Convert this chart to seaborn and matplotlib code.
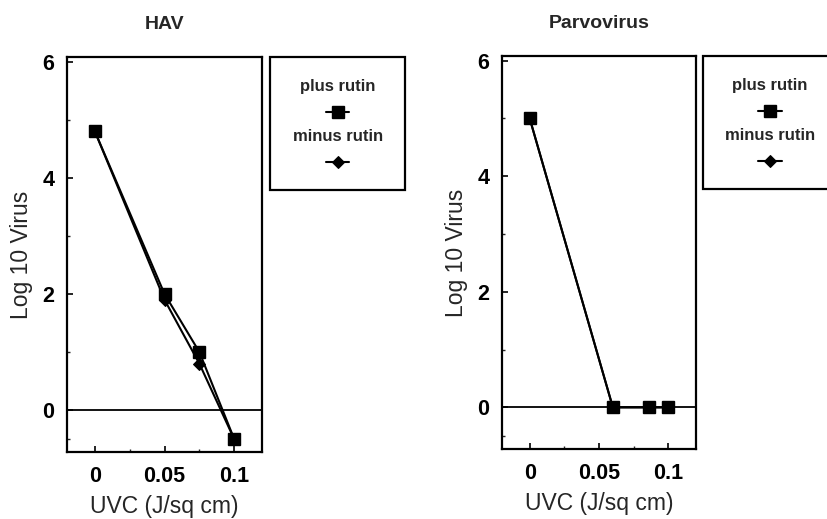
import matplotlib
matplotlib.use("Agg")
import matplotlib.pyplot as plt
import seaborn as sns
import pandas as pd
from matplotlib.offsetbox import VPacker
from matplotlib.ticker import FixedLocator

# ---- data ----
series_names = ["plus rutin", "minus rutin"]
hav_uvc = [0, 0.05, 0.075, 0.1]
hav_plus = [4.8, 2.0, 1.0, -0.5]
hav_minus = [4.8, 1.9, 0.8, -0.5]
parvo_uvc = [0, 0.06, 0.086, 0.1]
parvo_plus = [5.0, 0.0, 0.0, 0.0]
parvo_minus = [5.0, 0.0, 0.0, 0.0]
panel_titles = ["HAV", "Parvovirus"]
x_ticks = [0, 0.05, 0.1]
x_ticklabels = ["0", "0.05", "0.1"]
y_ticks = [0, 2, 4, 6]

sns.set_theme(style="white")
plt.rcParams["font.family"] = ["Liberation Sans", "DejaVu Sans"]

fig = plt.figure(figsize=(8.27, 5.19), dpi=100)
ax1 = fig.add_axes([0.081, 0.129, 0.236, 0.761])
ax2 = fig.add_axes([0.607, 0.135, 0.2346, 0.757])


def make_df(x, plus, minus):
    return pd.DataFrame({
        "uvc": list(x) + list(x),
        "log": list(plus) + list(minus),
        "series": [series_names[0]] * len(x) + [series_names[1]] * len(x),
    })


def stack_legend(leg):
    hbox = leg._legend_handle_box
    items = []
    for col in hbox.get_children():
        for row in col.get_children():
            h, t = row.get_children()
            items.append(VPacker(pad=0, sep=9, align="center", children=[t, h]))
    newbox = VPacker(pad=0, sep=8, align="center", children=items)
    leg._legend_box._children[1] = newbox
    leg._legend_handle_box = newbox


def draw_panel(ax, df, title, leg_x0):
    dplus = df[df["series"] == series_names[0]]
    dminus = df[df["series"] == series_names[1]]
    sns.lineplot(data=dminus, x="uvc", y="log", ax=ax, color="black", lw=1.5,
                 marker="D", markersize=6, markerfacecolor="black",
                 markeredgecolor="black", label=series_names[1], legend=False)
    sns.lineplot(data=dplus, x="uvc", y="log", ax=ax, color="black", lw=1.5,
                 marker="s", markersize=8.5, markerfacecolor="black",
                 markeredgecolor="black", markeredgewidth=1,
                 label=series_names[0], legend=False)
    ax.axhline(0, color="black", lw=1.3, zorder=1)
    ax.set_xlim(-0.02, 0.12)
    ax.set_ylim(-0.72, 6.08)
    ax.xaxis.set_major_locator(FixedLocator(x_ticks))
    ax.set_xticklabels(x_ticklabels)
    ax.xaxis.set_minor_locator(FixedLocator([0.025, 0.075]))
    ax.yaxis.set_major_locator(FixedLocator(y_ticks))
    ax.yaxis.set_minor_locator(FixedLocator([-0.5, 1, 3, 5]))
    ax.tick_params(which="major", direction="in", length=4, width=1.2,
                   colors="black", labelsize=15.5, pad=9,
                   bottom=True, left=True)
    ax.tick_params(which="minor", direction="in", length=2.5, width=1,
                   bottom=True, left=True)
    for lab in ax.get_xticklabels() + ax.get_yticklabels():
        lab.set_fontweight("bold")
    ax.tick_params(axis="x", pad=10)
    for sp in ax.spines.values():
        sp.set_color("black")
        sp.set_linewidth(1.6)
        sp.set_visible(True)
    ax.set_xlabel("UVC (J/sq cm)", fontsize=16.5, labelpad=6)
    ax.set_ylabel("Log 10 Virus", fontsize=16.5, labelpad=7)
    ax.set_title(title, fontsize=14, fontweight="bold", pad=20)
    handles, labels = ax.get_legend_handles_labels()
    order = [labels.index(n) for n in series_names]
    leg = ax.legend([handles[i] for i in order], [labels[i] for i in order],
                    loc="upper left", bbox_to_anchor=(leg_x0, 0.656, 0.692, 0.344),
                    mode="expand", borderaxespad=0, fancybox=False, framealpha=1,
                    edgecolor="black", handlelength=1.4,
                    borderpad=1.3, prop={"weight": "bold", "size": 12})
    leg.get_frame().set_linewidth(1.6)
    stack_legend(leg)


draw_panel(ax1, make_df(hav_uvc, hav_plus, hav_minus), panel_titles[0], 1.041)
draw_panel(ax2, make_df(parvo_uvc, parvo_plus, parvo_minus), panel_titles[1], 1.036)

fig.savefig("out.png", dpi=100)
